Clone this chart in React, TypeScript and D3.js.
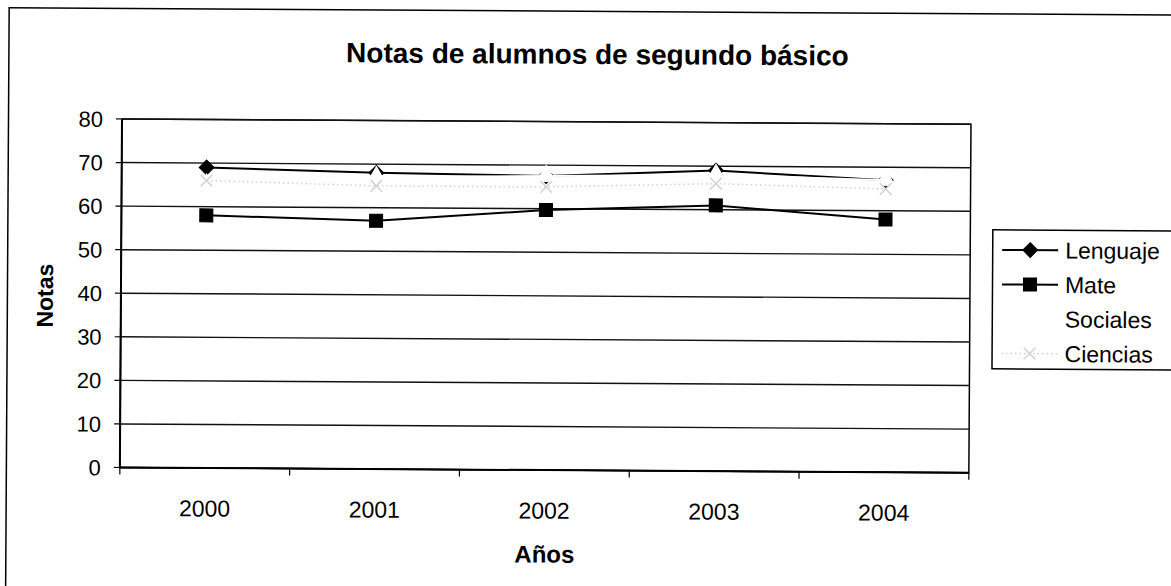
import React from 'react';
import * as d3 from 'd3';

// values
const years = ['2000', '2001', '2002', '2003', '2004'];
const lenguaje = [69, 68, 67.5, 69, 67];
const mate = [58, 57, 59.7, 61, 58];
const sociales = [65, 67, 67.5, 68, 67];
const ciencias = [66, 65, 65, 66, 65];
const yTicks = [0, 10, 20, 30, 40, 50, 60, 70, 80];

const FONT = 'Liberation Sans, Arial, sans-serif';

const series = [
  { name: 'Lenguaje', values: lenguaje, color: '#000', fill: '#000', symbol: d3.symbolDiamond2, size: 140, width: 2, dash: null },
  { name: 'Mate', values: mate, color: '#000', fill: '#000', symbol: d3.symbolSquare, size: 170, width: 2, dash: null },
  { name: 'Sociales', values: sociales, color: '#fff', fill: '#fff', symbol: d3.symbolTriangle, size: 150, width: 2, dash: null },
  { name: 'Ciencias', values: ciencias, color: '#d2d2d2', fill: 'none', symbol: d3.symbolX, size: 90, width: 1.5, dash: '1.5,3' },
];

export default function App() {
  const W = 1171;
  const H = 586;
  const plot = { left: 122, right: 971, top: 119, bottom: 467.5 };

  const x = d3.scaleBand<string>().domain(years).range([plot.left, plot.right]);
  const y = d3.scaleLinear().domain([0, 80]).range([plot.bottom, plot.top]);
  const cx = (yr: string) => (x(yr) ?? 0) + x.bandwidth() / 2;

  const line = d3.line<number>()
    .x((_, i) => cx(years[i]))
    .y(d => y(d));

  const bounds = [...years.map(yr => x(yr) ?? 0), plot.right];

  const legend = { x: 993.5, y: 224.5, w: 260, h: 139 };
  const legendRow = (i: number) => legend.y + 20 + i * 34.5;

  return (
    <svg width={W} height={H} style={{ position: 'absolute', left: 0, top: 0, display: 'block', background: '#fff' }}
      fontFamily={FONT}>
      {/* the scan is slightly tilted */}
      <g transform={`rotate(0.35, ${plot.left}, ${plot.top})`}>
        {/* chart border (right and bottom fall outside the page) */}
        <rect x={8.5} y={8.5} width={1400} height={800} fill="none" stroke="#000" strokeWidth={1.5} />

        <text x={597} y={61} textAnchor="middle" fontSize={28} fontWeight="bold" fill="#000">
          Notas de alumnos de segundo básico
        </text>

        {/* plot area */}
        <rect x={plot.left} y={plot.top} width={plot.right - plot.left} height={plot.bottom - plot.top}
          fill="#fff" stroke="#000" strokeWidth={1.5} />

        {yTicks.map(t => (
          <g key={t}>
            <line x1={plot.left} x2={plot.right} y1={y(t)} y2={y(t)} stroke="#111" strokeWidth={1.4} />
            <line x1={plot.left - 6} x2={plot.left} y1={y(t)} y2={y(t)} stroke="#000" strokeWidth={1.2} />
            <text x={103} y={y(t)} dy="0.36em" textAnchor="end" fontSize={22} fill="#000">{t}</text>
          </g>
        ))}

        <line x1={plot.left} x2={plot.left} y1={plot.top} y2={plot.bottom} stroke="#000" strokeWidth={2} />
        <line x1={plot.left} x2={plot.right} y1={plot.bottom} y2={plot.bottom} stroke="#000" strokeWidth={2} />

        {bounds.map((b, i) => (
          <line key={i} x1={b} x2={b} y1={plot.bottom} y2={plot.bottom + 7} stroke="#000" strokeWidth={1.2} />
        ))}
        {years.map(yr => (
          <text key={yr} x={cx(yr)} y={516} textAnchor="middle" fontSize={23} fill="#000">{yr}</text>
        ))}

        <text x={547} y={560} textAnchor="middle" fontSize={24} fontWeight="bold" fill="#000">Años</text>
        <text transform="translate(54, 296) rotate(-90)" textAnchor="middle" fontSize={23} fontWeight="bold" fill="#000">
          Notas
        </text>

        {/* series */}
        {series.map(s => (
          <g key={s.name}>
            <path d={line(s.values) ?? ''} fill="none" stroke={s.color} strokeWidth={s.width}
              strokeDasharray={s.dash ?? undefined} />
            {s.values.map((v, i) => (
              <path key={i} transform={`translate(${cx(years[i])},${y(v)})`}
                d={d3.symbol(s.symbol, s.size)() ?? ''}
                fill={s.fill} stroke={s.color} strokeWidth={s.fill === 'none' ? 1.5 : 1} />
            ))}
          </g>
        ))}

        {/* legend */}
        <rect x={legend.x} y={legend.y} width={legend.w} height={legend.h} fill="#fff" stroke="#000" strokeWidth={1.5} />
        {series.map((s, i) => (
          <g key={s.name}>
            <line x1={1003} x2={1059} y1={legendRow(i)} y2={legendRow(i)} stroke={s.color} strokeWidth={s.width}
              strokeDasharray={s.dash ?? undefined} />
            <path transform={`translate(1031,${legendRow(i)})`} d={d3.symbol(s.symbol, s.size)() ?? ''}
              fill={s.fill} stroke={s.color} strokeWidth={s.fill === 'none' ? 1.5 : 1} />
            <text x={1066} y={legendRow(i)} dy="0.36em" fontSize={23} fill="#000">{s.name}</text>
          </g>
        ))}
      </g>
    </svg>
  );
}
